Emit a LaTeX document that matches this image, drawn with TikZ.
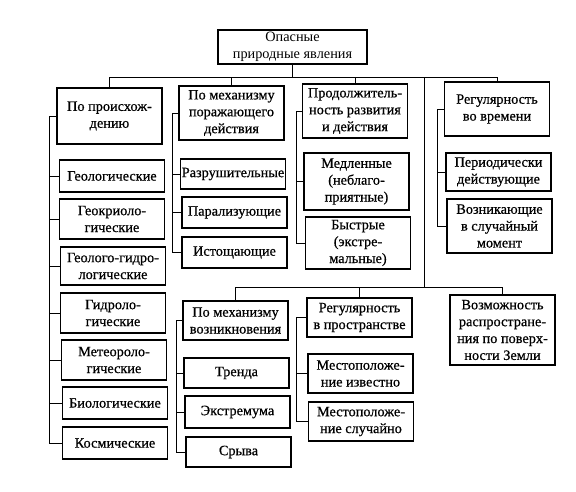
\documentclass[tikz,border=0pt]{standalone}
\usepackage{fontspec}
\setmainfont{Liberation Serif}
\newfontfamily\boxfont{Liberation Serif}[FakeBold=0.6]
\tikzset{
  box/.style={draw, black, line width=1.1pt, align=center, inner xsep=1pt, inner ysep=0.5pt,
    minimum width=73.5pt, font=\boxfont\fontsize{10}{11.8}\selectfont},
  link/.style={black, line width=0.6pt}
}

\begin{document}
\begin{tikzpicture}[x=0.7pt, y=-0.7pt]
  \useasboundingbox (0,0) rectangle (576,492);
  \node[box, minimum width=104.3pt, minimum height=23.8pt, font=\rmfamily\fontsize{10}{11.8}\selectfont] (top) at (292.5,47) {Опасные\\природные явления};

  \node[box, minimum height=39.2pt] (orig) at (109.5,116) {По происхож-\\дению};
  \node[box, minimum height=37.8pt] (mech) at (231.5,113) {По механизму\\поражающего\\действия};
  \node[box, minimum height=37.8pt] (dur) at (355,111) {Продолжитель-\\ность развития\\и действия};
  \node[box, minimum height=37.8pt] (regt) at (497,109) {Регулярность\\во времени};

  \node[box, minimum height=22.4pt] (geol) at (112,176) {Геологические};
  \node[box, minimum height=28pt] (geokr) at (112,219) {Геокриоло-\\гические};
  \node[box, minimum height=26.6pt] (geogidr) at (113,266) {Геолого-гидро-\\логические};
  \node[box, minimum height=28pt] (gidr) at (113,313) {Гидроло-\\гические};
  \node[box, minimum height=28pt] (meteo) at (114,360) {Метеороло-\\гические};
  \node[box, minimum height=22.4pt] (bio) at (115,403) {Биологические};
  \node[box, minimum height=22.4pt] (kosm) at (115,443) {Космические};

  \node[box, minimum height=21pt] (razr) at (233,174) {Разрушительные};
  \node[box, minimum height=21.7pt] (paral) at (234.5,212.5) {Парализующие};
  \node[box, minimum height=21.7pt] (istosh) at (234.5,252.5) {Истощающие};

  \node[box, minimum height=39.9pt] (slow) at (356.5,181.5) {Медленные\\(неблаго-\\приятные)};
  \node[box, minimum height=36.4pt] (fast) at (358,243) {Быстрые\\(экстре-\\мальные)};

  \node[box, minimum height=26.6pt] (period) at (498.5,172) {Периодически\\действующие};
  \node[box, minimum height=37.8pt] (random) at (499.5,226) {Возникающие\\в случайный\\момент};

  \node[box, minimum height=27.3pt] (mvozn) at (235.5,320.5) {По механизму\\возникновения};
  \node[box, minimum height=21pt] (trend) at (236.5,373) {Тренда};
  \node[box, minimum height=22.4pt] (extr) at (237.5,412) {Экстремума};
  \node[box, minimum height=21pt] (sryv) at (238.5,452) {Срыва};

  \node[box, minimum height=27.3pt] (regp) at (359.5,317.5) {Регулярность\\в пространстве};
  \node[box, minimum height=27.3pt] (mknown) at (360.5,373.5) {Местоположе-\\ние известно};
  \node[box, minimum height=27.3pt] (mrand) at (361,421.5) {Местоположе-\\ние случайно};

  \node[box, minimum height=49pt] (vozm) at (502.5,330) {Возможность\\распростране-\\ния по поверх-\\ности Земли};

  \draw[link] (orig.north) -- ++(0,-10) coordinate (tbus) -| (regt.north);
  \draw[link] (top.south) -- (top.south |- tbus);
  \foreach \n in {mech,dur}
    \draw[link] (\n.north) -- (\n.north |- tbus);
  \coordinate (split) at (424,0);
  \draw[link] (mvozn.north) -- ++(0,-13) coordinate (lbus) -| (vozm.north);
  \draw[link] (regp.north) -- (regp.north |- lbus);
  \draw[link] (split |- tbus) -- (split |- lbus);

  \draw[link] (orig.west) -- ++(-7,0) coordinate (origx) |- (kosm.west);
  \foreach \n in {geol,geokr,geogidr,gidr,meteo,bio}
    \draw[link] (\n.west) -- (\n.west -| origx);
  \draw[link] (mech.west) -- ++(-6,0) coordinate (mechx) |- (istosh.west);
  \foreach \n in {razr,paral}
    \draw[link] (\n.west) -- (\n.west -| mechx);
  \draw[link] (dur.west) -- ++(-5,0) coordinate (durx) |- (fast.west);
  \draw[link] (slow.west) -- (slow.west -| durx);
  \draw[link] (regt.west) -- ++(-6,0) coordinate (regtx) |- (random.west);
  \draw[link] (period.west) -- (period.west -| regtx);
  \draw[link] (mvozn.west) -- ++(-6,0) coordinate (mvoznx) |- (sryv.west);
  \foreach \n in {trend,extr}
    \draw[link] (\n.west) -- (\n.west -| mvoznx);
  \draw[link] (regp.west) -- ++(-10,0) coordinate (regpx) |- (mrand.west);
  \draw[link] (mknown.west) -- (mknown.west -| regpx);
\end{tikzpicture}
\end{document}
